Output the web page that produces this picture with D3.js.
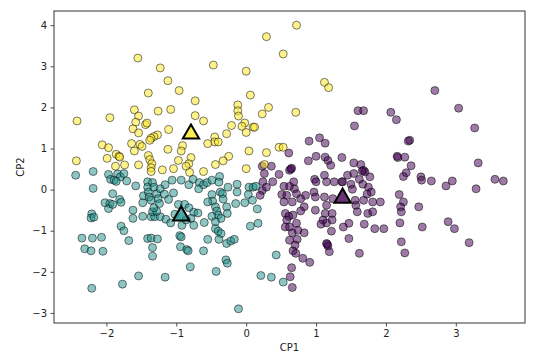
<!DOCTYPE html>
<html lang="en">
<head>
<meta charset="utf-8">
<title>CP1 vs CP2 clusters</title>
<script src="https://d3js.org/d3.v7.min.js"></script>
<style>
  body { margin: 0; background: #fff; }
  svg { display: block; font-family: "DejaVu Sans", sans-serif; }
</style>
</head>
<body>
<svg id="chart" width="541" height="359"></svg>
<script>
// cluster labels, viridis colours for 3 classes
var clusters = [0, 1, 2]
var clusterColors = ["#440154", "#21918c", "#fde725"]

// cluster 0 (purple), [CP1, CP2]
var purplePts = [
  [0.23,0.57],[0.36,0.57],[0.61,0.89],[0.65,0.52],[0.62,0.47],[0.26,0.39],[0.38,0.19],[0.47,0.37],
  [0.24,0.19],[0.23,-0.02],[0.20,-0.14],[0.29,0.06],[0.54,0.08],[0.62,0.08],[0.68,0.19],[0.69,0.02],
  [0.51,-0.12],[0.58,-0.14],[0.72,-0.10],[0.78,-0.22],[0.54,-0.30],[0.66,-0.30],[0.56,-0.58],[0.61,-0.65],
  [0.67,-0.62],[0.83,-0.42],[0.78,-0.52],[0.58,-0.74],[0.56,-0.91],[0.62,-0.91],[0.72,-0.82],[0.66,-1.05],
  [0.74,-0.99],[0.83,-1.05],[0.62,-1.23],[0.73,-1.21],[0.70,-1.35],[0.67,-1.49],[0.71,-1.55],[0.81,-1.67],
  [0.91,-1.77],[0.65,-1.90],[0.63,-2.12],[0.66,-2.38],[0.90,1.18],[1.05,1.26],[1.13,1.13],[0.89,0.70],
  [1.00,0.81],[1.13,0.79],[1.17,0.71],[1.21,0.59],[1.37,0.78],[0.98,0.25],[1.00,0.19],[1.12,0.35],
  [1.15,0.19],[1.26,0.19],[1.37,0.19],[1.45,0.35],[1.54,0.65],[1.64,0.61],[1.68,0.47],[1.70,0.43],
  [1.54,0.39],[1.62,0.25],[1.77,0.31],[1.50,0.13],[1.52,0.01],[1.67,0.13],[1.75,0.06],[1.79,-0.06],
  [1.73,-0.11],[1.56,-0.26],[1.68,-0.26],[1.81,-0.30],[1.92,-0.30],[1.57,-0.38],[1.59,-0.54],[1.74,-0.58],
  [1.81,-0.54],[1.47,-0.82],[1.69,-0.84],[1.84,-0.95],[1.97,-0.95],[1.39,-0.91],[1.47,-1.19],[1.62,-1.55],
  [0.97,-0.06],[0.99,-0.18],[1.12,-0.18],[1.24,-0.22],[0.99,-0.50],[1.15,-0.38],[1.13,-0.58],[1.23,-0.58],
  [1.10,-0.74],[1.07,-0.84],[1.15,-0.81],[1.23,-0.74],[1.22,-1.01],[1.15,-1.31],[1.17,-1.37],[1.19,-1.51],
  [2.07,1.88],[2.15,1.70],[1.60,1.92],[1.68,1.92],[1.55,1.55],[2.70,2.41],[3.04,1.98],[3.27,1.50],
  [2.34,1.20],[2.32,1.18],[2.16,0.81],[2.27,0.79],[2.17,0.78],[2.36,0.58],[2.29,0.41],[2.25,0.32],
  [2.50,0.31],[2.51,0.23],[2.65,0.21],[2.86,0.09],[2.95,0.21],[3.32,0.65],[3.56,0.25],[3.68,0.21],
  [3.29,0.02],[2.19,-0.12],[2.25,-0.30],[2.21,-0.42],[2.22,-0.54],[2.20,-0.81],[2.47,-0.42],[2.52,-0.91],
  [2.89,-0.78],[2.98,-0.95],[2.22,-1.27],[2.27,-1.54],[3.19,-1.29],[0.85,-0.14],[1.66,0.45],[1.16,-1.33],
  [0.64,0.50],[1.38,0.19]
]

// cluster 1 (teal)
var tealPts = [
  [-2.44,0.35],[-2.19,0.44],[-2.19,0.03],[-1.97,0.37],[-1.94,0.25],[-1.91,-0.10],[-2.02,-0.32],[-1.95,-0.34],
  [-1.97,-0.46],[-1.91,-0.36],[-1.81,-0.24],[-1.79,-0.31],[-1.84,0.38],[-1.80,0.31],[-1.75,0.39],[-1.89,0.23],
  [-1.86,0.20],[-1.71,0.21],[-1.58,0.09],[-1.62,-0.50],[-1.62,-0.70],[-2.21,-0.59],[-2.22,-0.69],[-2.18,-0.67],
  [-2.35,-1.18],[-2.20,-1.18],[-2.07,-1.16],[-2.31,-1.44],[-2.22,-1.49],[-2.05,-1.50],[-1.79,-0.89],[-1.75,-1.00],
  [-1.68,-1.24],[-2.21,-2.40],[-1.77,-2.30],[-1.54,-2.10],[-1.16,-2.13],[-1.48,-0.32],[-1.47,-0.15],[-1.41,0.19],
  [-1.41,0.06],[-1.40,-0.06],[-1.39,-0.18],[-1.36,-0.26],[-1.34,0.17],[-1.32,0.06],[-1.28,-0.10],[-1.26,-0.22],
  [-1.23,0.02],[-1.16,0.12],[-1.06,0.23],[-0.93,0.23],[-1.17,-0.11],[-1.11,-0.24],[-1.04,-0.08],[-1.48,-0.65],
  [-1.36,-0.66],[-1.31,-0.66],[-1.23,-0.66],[-1.15,-0.72],[-1.08,-0.81],[-1.34,-0.54],[-1.28,-0.53],[-1.32,-0.44],
  [-1.24,-0.34],[-1.41,-1.19],[-1.36,-1.18],[-1.27,-1.20],[-1.34,-1.62],[-1.34,-1.41],[-0.97,-0.36],[-0.88,-0.36],
  [-0.92,-0.87],[-0.95,-1.12],[-0.93,-1.15],[-0.94,-1.39],[-0.85,-1.46],[-0.83,-1.49],[-0.80,-1.88],[-0.82,-0.44],
  [-0.75,-0.55],[-0.69,-0.57],[-0.79,-0.70],[-0.75,-0.87],[-0.61,-1.49],[-0.55,-1.21],[-0.43,-1.99],[-0.82,0.12],
  [-0.76,0.25],[-0.67,0.17],[-0.68,0.02],[-0.61,0.12],[-0.56,0.17],[-0.49,0.23],[-0.38,0.32],[-0.39,0.18],
  [-0.37,-0.06],[-0.34,-0.10],[-0.33,-0.23],[-0.49,-0.12],[-0.48,-0.28],[-0.44,-0.42],[-0.42,-0.52],[-0.40,-0.62],
  [-0.36,-0.70],[-0.49,-0.65],[-0.44,-0.78],[-0.44,-0.95],[-0.40,-1.01],[-0.36,-1.07],[-0.28,-0.42],[-0.27,-0.58],
  [-0.39,-1.21],[-0.28,-1.31],[-0.22,-1.25],[-0.17,-1.21],[-0.29,-1.71],[-0.27,-1.79],[-0.13,0.13],[-0.26,0.06],
  [-0.13,-0.06],[-0.15,-0.34],[-0.02,-0.32],[0.04,0.06],[0.10,0.06],[0.14,0.08],[0.03,-0.12],[0.09,-0.26],
  [0.16,-0.47],[0.06,-0.89],[0.17,-0.82],[0.21,-2.09],[0.36,-2.13],[0.43,-1.59],[0.53,-2.25],[-0.11,-2.90],
  [-1.02,-0.60],[-0.86,-0.74],[-0.55,-0.30],[-0.60,-0.80]
]

// cluster 2 (yellow)
var yellowPts = [
  [0.72,4.00],[0.29,3.72],[0.53,3.30],[-1.55,3.20],[-1.23,2.96],[-0.47,3.03],[0.00,2.88],[-1.12,2.65],
  [1.12,2.61],[1.18,2.48],[-0.96,2.41],[-1.40,2.35],[-0.73,2.16],[0.06,2.30],[-0.12,2.06],[-0.12,1.92],
  [-0.11,1.79],[0.32,2.00],[0.23,1.84],[0.71,1.88],[-1.60,1.94],[-1.26,1.91],[-1.08,1.95],[-1.95,1.75],
  [-2.42,1.67],[-1.54,1.79],[-1.58,1.64],[-0.73,1.80],[-0.61,1.67],[-0.21,1.56],[-0.02,1.62],[-0.06,1.54],
  [0.10,1.52],[0.12,1.52],[0.00,1.39],[-1.11,1.46],[-1.62,1.48],[-1.54,1.38],[-1.44,1.58],[-1.42,1.62],
  [-0.28,1.36],[-0.45,1.28],[-0.45,1.16],[-0.55,1.12],[-0.40,1.16],[-1.27,1.33],[-1.32,1.29],[-1.36,1.25],
  [-1.38,1.20],[-0.91,1.07],[-0.93,0.94],[-1.12,0.98],[-2.06,1.09],[-1.97,1.02],[-1.60,0.94],[-1.64,1.12],
  [-1.52,1.10],[-1.49,1.05],[-0.79,0.78],[-0.82,0.63],[-2.43,0.70],[-1.99,0.76],[-1.86,0.86],[-1.82,0.81],
  [-1.81,0.79],[-1.40,0.83],[-1.38,0.73],[-1.35,0.63],[-1.36,0.53],[-1.36,0.44],[-1.74,0.60],[-1.87,0.57],
  [-1.54,0.60],[-1.20,0.48],[-0.97,0.71],[-0.86,0.57],[-0.81,0.42],[-1.04,0.51],[-0.25,0.81],[-0.33,0.70],
  [-0.44,0.61],[-0.61,0.44],[0.04,0.94],[0.00,0.51],[0.29,0.90],[0.26,0.61],[0.47,1.03],[0.53,1.03]
]

// centroids [CP1, CP2] per cluster
var centroids = [[1.38, -0.18], [-0.93, -0.61], [-0.79, 1.38]]

var xTicks = [-2, -1, 0, 1, 2, 3]
var yTicks = [-3, -2, -1, 0, 1, 2, 3, 4]

var margin = {top: 11, right: 16, bottom: 36, left: 54}
var W = 541, H = 359
var innerW = W - margin.left - margin.right
var innerH = H - margin.top - margin.bottom

var svg = d3.select("#chart")
var g = svg.append("g").attr("transform", "translate(" + margin.left + "," + margin.top + ")")

var x = d3.scaleLinear().domain([-2.75, 3.99]).range([0, innerW])
var y = d3.scaleLinear().domain([-3.245, 4.345]).range([innerH, 0])

var points = []
;[purplePts, tealPts, yellowPts].forEach(function(arr, c) {
  arr.forEach(function(p) { points.push({x: p[0], y: p[1], c: clusters[c]}) })
})

g.append("g")
  .selectAll("circle")
  .data(points)
  .join("circle")
    .attr("cx", d => x(d.x))
    .attr("cy", d => y(d.y))
    .attr("r", 4)
    .attr("fill", d => clusterColors[d.c])
    .attr("fill-opacity", 0.52)
    .attr("stroke", "#000")
    .attr("stroke-opacity", 0.5)
    .attr("stroke-width", 1)

// centroids as triangles
var tri = d3.symbol().type(d3.symbolTriangle).size(115)
g.append("g")
  .selectAll("path")
  .data(centroids)
  .join("path")
    .attr("d", tri)
    .attr("transform", d => "translate(" + x(d[0]) + "," + (y(d[1]) + 1) + ")")
    .attr("fill", (d, i) => clusterColors[i])
    .attr("fill-opacity", 0.8)
    .attr("stroke", "#000")
    .attr("stroke-width", 2)

// axes
var xAxis = g.append("g")
  .attr("transform", "translate(0," + innerH + ")")
  .call(d3.axisBottom(x).tickValues(xTicks).tickSize(3.5).tickPadding(3.5).tickFormat(d => d < 0 ? "\u2212" + Math.abs(d) : d))
var yAxis = g.append("g")
  .call(d3.axisLeft(y).tickValues(yTicks).tickSize(3.5).tickPadding(3.5).tickFormat(d => d < 0 ? "\u2212" + Math.abs(d) : d))

;[xAxis, yAxis].forEach(function(a) {
  a.select(".domain").remove()
  a.selectAll("line").attr("stroke", "#222").attr("stroke-width", 0.8)
  a.selectAll("text").attr("font-size", 10).attr("fill", "#222").attr("font-family", "DejaVu Sans, sans-serif")
})

// frame
g.append("rect")
  .attr("width", innerW)
  .attr("height", innerH)
  .attr("fill", "none")
  .attr("stroke", "#333")
  .attr("stroke-width", 1)

svg.append("text")
  .attr("x", margin.left + innerW / 2)
  .attr("y", 351)
  .attr("text-anchor", "middle")
  .attr("font-size", 10)
  .attr("fill", "#222")
  .text("CP1")

svg.append("text")
  .attr("transform", "translate(24," + (margin.top + innerH / 2) + ") rotate(-90)")
  .attr("text-anchor", "middle")
  .attr("font-size", 10)
  .attr("fill", "#222")
  .text("CP2")
</script>
</body>
</html>
